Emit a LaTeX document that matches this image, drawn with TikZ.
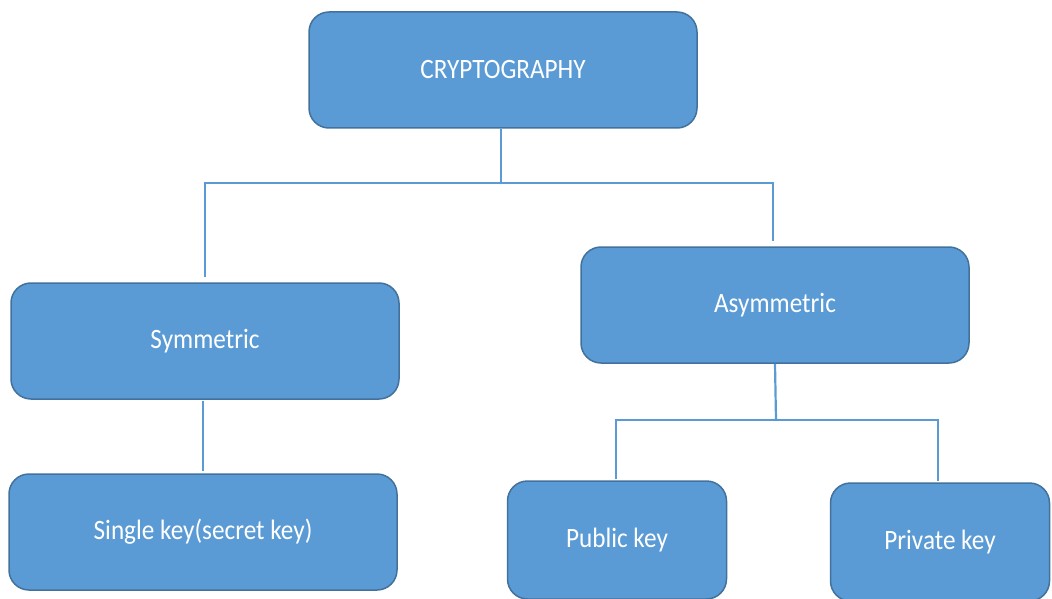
\documentclass[tikz,border=0pt]{standalone}
\usepackage{fontspec}
\setmainfont[FakeStretch=0.9]{Carlito}
\definecolor{boxfill}{HTML}{5B9BD5}
\definecolor{boxline}{HTML}{41719C}
\definecolor{linkline}{HTML}{5B9BD5}
\begin{document}
\begin{tikzpicture}
  [x=1pt, y=-1pt]
  \tikzstyle{box} = [draw=boxline, line width=1.5pt, fill=boxfill, rounded corners=20pt,
    text=white, font=\fontsize{28}{32}\selectfont, inner sep=0pt];
  \tikzstyle{wide_box}  = [box, minimum width=388pt, minimum height=116pt];
  \tikzstyle{small_box} = [box, minimum width=219pt, minimum height=118pt];
  \tikzstyle{link} = [draw=linkline, line width=2.2pt];

  \clip (0, 0) rectangle (1052, 599);

  \node[wide_box] (crypto) at (503, 70) {CRYPTOGRAPHY};

  \node[wide_box] (sym)  at (205, 341) {Symmetric};
  \node[wide_box] (asym) at (775, 305) {Asymmetric};

  \node[wide_box]  (single)  at (203, 532) {Single key(secret key)};
  \node[small_box] (public)  at (617, 540) {Public key};
  \node[small_box] (private) at (940, 542) {Private key};

  \coordinate (top_split) at (501, 183);
  \coordinate (asym_split) at (776, 420);

  \draw[link] ([xshift=-2pt]crypto.south) -- (top_split);
  \draw[link, shorten <=5pt, shorten >=5pt] (sym.north) |- (top_split) -| ([xshift=-2pt]asym.north);

  \draw[link, shorten <=1pt, shorten >=2pt] ([xshift=-2pt]sym.south) -- ([xshift=0pt]single.north);

  \draw[link] (asym.south) -- (asym_split);
  \draw[link, shorten <=1pt, shorten >=1pt] ([xshift=-1pt]public.north) |- (asym_split) -| ([xshift=-2pt]private.north);

\end{tikzpicture}
\end{document}
